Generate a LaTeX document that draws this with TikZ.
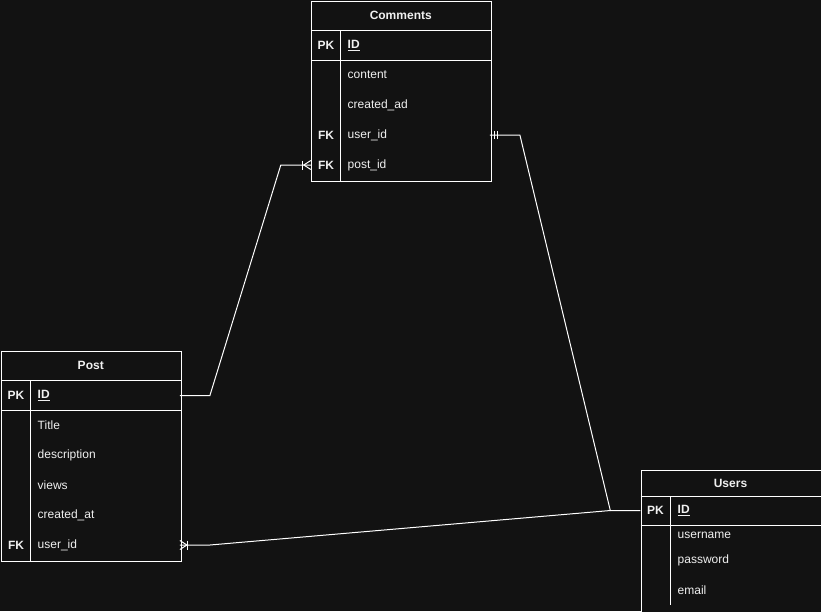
\documentclass[tikz,border=0pt]{standalone}
\usepackage{fontspec}
\setmainfont{Liberation Sans}
\usetikzlibrary{calc}
\definecolor{bg}{HTML}{121212}
\definecolor{ink}{HTML}{F0F0F0}
\tikzset{
  tbl/.style={draw=white, line width=1pt, fill=bg, inner sep=0pt, anchor=north west},
  sep/.style={draw=white, line width=1pt},
  ttl/.style={font=\fontsize{12}{14}\selectfont\bfseries, text=ink, inner sep=0pt},
  keycell/.style={font=\fontsize{12}{14}\selectfont\bfseries, text=ink, inner sep=0pt, minimum width=30pt, minimum height=30pt},
  fld/.style={font=\fontsize{12}{14}\selectfont, text=ink, anchor=west, inner xsep=7pt, inner ysep=0pt, text width=135pt, align=left, minimum height=30pt},
  idfld/.style={fld, font=\fontsize{12}{14}\selectfont\bfseries},
  conn/.style={draw=white, line width=1pt},
  endmark/.style={draw=white, line width=1pt},
}
\begin{document}
\begin{tikzpicture}[x=1pt, y=-1pt]
\useasboundingbox[fill=bg] (0,0) rectangle (821,611);
\begin{scope}
\clip (0,0) rectangle (821,611);

% ---------------- Comments ----------------
\node[tbl, minimum width=179.5pt, minimum height=179.5pt] (comments) at (311,1) {};
\draw[sep] (311,30.5) -- (490.5,30.5);
\draw[sep] (311,60.5) -- (490.5,60.5);
\draw[sep] (340.5,30.5) -- (340.5,180.5);
\node[ttl] (ctitle) at (400.75,15.5) {Comments};
\node[keycell] (ckid) at (326,45.5) {PK};
\node[idfld] (cid) at (340.5,45.5) {\underline{ID}};
\node[fld] (ccontent) at (340.5,75) {content};
\node[fld] (ccreated) at (340.5,105) {created\_ad};
\node[keycell] (ckuser) at (326,135) {FK};
\node[fld] (cuser) at (340.5,135) {user\_id};
\node[keycell] (ckpost) at (326,165) {FK};
\node[fld] (cpost) at (340.5,165) {post\_id};

% ---------------- Post ----------------
\node[tbl, minimum width=179.5pt, minimum height=209.5pt] (post) at (1,351) {};
\draw[sep] (1,380.5) -- (180.5,380.5);
\draw[sep] (1,410.5) -- (180.5,410.5);
\draw[sep] (30.5,380.5) -- (30.5,560.5);
\node[ttl] (ptitle) at (90.75,365) {Post};
\node[keycell] (pkid) at (16,395.5) {PK};
\node[idfld] (pid) at (30.5,395.5) {\underline{ID}};
\node[fld] (ptitlef) at (30.5,425) {Title};
\node[fld] (pdesc) at (30.5,455) {description};
\node[fld] (pviews) at (30.5,485) {views};
\node[fld] (pcreated) at (30.5,515) {created\_at};
\node[keycell] (pkuser) at (16,545) {FK};
\node[fld] (puser) at (30.5,545) {user\_id};

% ---------------- Users ----------------
\node[tbl, minimum width=200pt, minimum height=160pt] (users) at (640.5,470) {};
\draw[sep] (640.5,496) -- (841,496);
\draw[sep] (640.5,525.5) -- (841,525.5);
\draw[sep] (670.5,496) -- (670.5,605);
\node[ttl] (utitle) at (730.5,483) {Users};
\node[keycell, minimum height=29pt] (ukid) at (655.5,510.5) {PK};
\node[idfld, minimum height=29pt] (uid) at (670.5,510.5) {\underline{ID}};
\node[fld, minimum height=25pt] (uname) at (670.5,535) {username};
\node[fld, minimum height=25pt] (upass) at (670.5,560) {password};
\node[fld] (uemail) at (670.5,590) {email};

% ---------------- Connectors ----------------
% Post.ID -> Comments.post_id (one to many)
\draw[conn] (pid.east) -- ($(pid.east)+(30,0)$) -- ($(ckpost.west)+(-30,0)$) -- (ckpost.west);
\draw[endmark] ($(ckpost.west)+(0,-4.5)$) -- ($(ckpost.west)+(-7,0)$) -- ($(ckpost.west)+(0,4.5)$);
\draw[endmark] ($(ckpost.west)+(-8,-4.5)$) -- ($(ckpost.west)+(-8,4.5)$);

% Comments.user_id -> Users.ID (mandatory one)
\draw[conn] (cuser.east) -- ($(cuser.east)+(30,0)$) -- ($(ukid.west)+(-30,0)$) -- (ukid.west);
\draw[endmark] ($(cuser.east)+(5,-4)$) -- ($(cuser.east)+(5,4)$);
\draw[endmark] ($(cuser.east)+(8,-4)$) -- ($(cuser.east)+(8,4)$);

% Post.user_id -> Users.ID (one to many)
\draw[conn] (puser.east) -- ($(puser.east)+(30,0)$) -- ($(ukid.west)+(-30,0)$);
\draw[endmark] ($(puser.east)+(0,-4.5)$) -- ($(puser.east)+(7,0)$) -- ($(puser.east)+(0,4.5)$);
\draw[endmark] ($(puser.east)+(8,-4.5)$) -- ($(puser.east)+(8,4.5)$);
\end{scope}
\end{tikzpicture}
\end{document}
